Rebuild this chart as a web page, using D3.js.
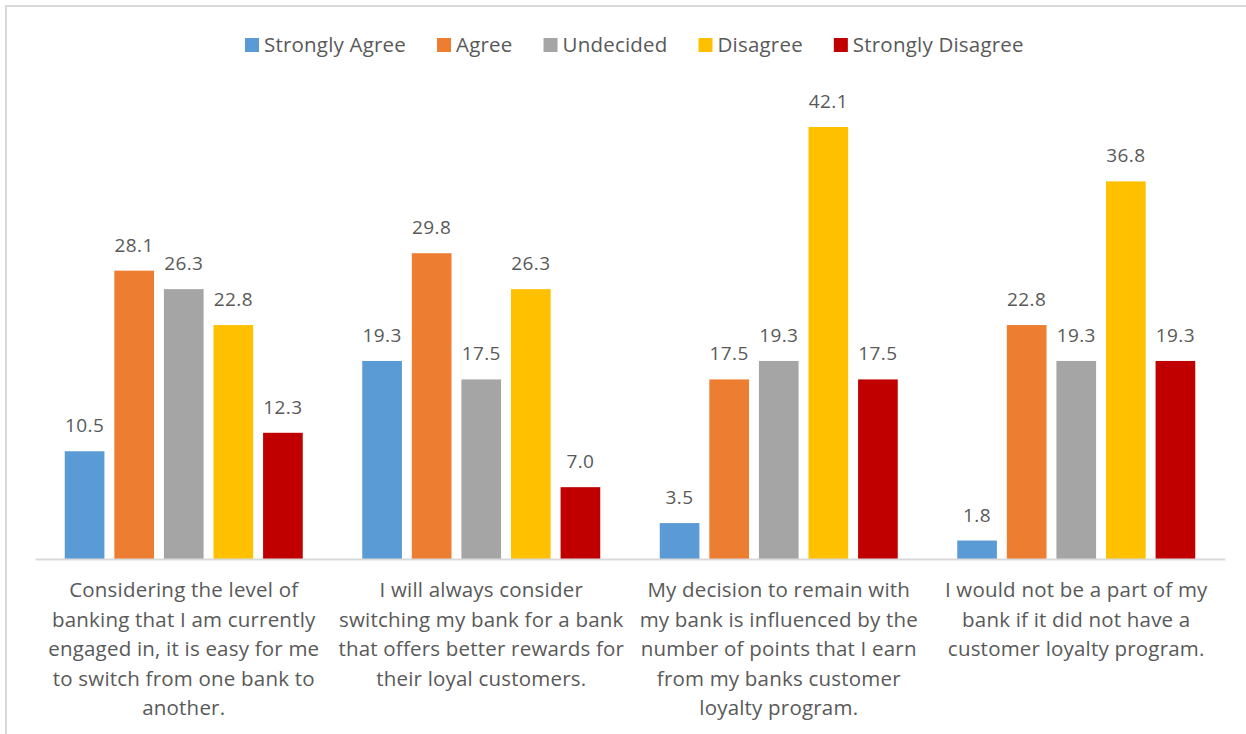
<!DOCTYPE html>
<html>
<head>
<meta charset="utf-8">
<script src="https://cdn.jsdelivr.net/npm/d3@7"></script>
<style>
  html, body { margin: 0; padding: 0; background: #fff; }
  svg { display: block; font-family: "Open Sans", Lato, sans-serif; }
</style>
</head>
<body>
<div id="chart"></div>
<script>
// dữ liệu
const categories = ["Q1", "Q2", "Q3", "Q4"];
const categoryLines = [
  ["Considering the level of", "banking that I am currently", "engaged in, it is easy for me", "to switch from one bank to", "another."],
  ["I will always consider", "switching my bank for a bank", "that offers better rewards for", "their loyal customers."],
  ["My decision to remain with", "my bank is influenced by the", "number of points that I earn", "from my banks customer", "loyalty program."],
  ["I would not be a part of my", "bank if it did not have a", "customer loyalty program."]
];
const seriesNames = ["Strongly Agree", "Agree", "Undecided", "Disagree", "Strongly Disagree"];
const seriesColors = ["#5b9bd5", "#ed7d31", "#a5a5a5", "#ffc000", "#c00000"];
const stronglyAgree = [10.5, 19.3, 3.5, 1.8];
const agree = [28.1, 29.8, 17.5, 22.8];
const undecided = [26.3, 17.5, 19.3, 19.3];
const disagree = [22.8, 26.3, 42.1, 36.8];
const stronglyDisagree = [12.3, 7.0, 17.5, 19.3];
const seriesValues = [stronglyAgree, agree, undecided, disagree, stronglyDisagree];

const W = 1246, H = 734;
const baseY = 559;
const textColor = "#595959";

const svg = d3.select("#chart").append("svg")
  .attr("width", W).attr("height", H);

// khung viền (bị cắt ở phải/dưới)
svg.append("rect")
  .attr("x", 6).attr("y", 6)
  .attr("width", W + 20).attr("height", H + 20)
  .attr("fill", "#fff")
  .attr("stroke", "#d9d9d9").attr("stroke-width", 2);

const x0 = d3.scaleBand()
  .domain(categories)
  .range([35, 1225])
  .paddingInner(0.2)
  .paddingOuter(0.1);

const x1 = d3.scaleBand()
  .domain(seriesNames)
  .range([0, x0.bandwidth()])
  .paddingInner(0.2)
  .paddingOuter(0);

const y = d3.scaleLinear()
  .domain([0, 42.1])
  .range([baseY, 127]);

const rows = [];
categories.forEach((c, ci) => {
  seriesNames.forEach((s, si) => {
    rows.push({ cat: c, series: s, si: si, value: seriesValues[si][ci] });
  });
});

// các thanh
svg.append("g").selectAll("rect")
  .data(rows)
  .join("rect")
  .attr("x", d => x0(d.cat) + x1(d.series))
  .attr("y", d => y(d.value))
  .attr("width", x1.bandwidth())
  .attr("height", d => baseY - y(d.value))
  .attr("fill", d => seriesColors[d.si]);

// nhãn giá trị
svg.append("g").selectAll("text")
  .data(rows)
  .join("text")
  .attr("x", d => x0(d.cat) + x1(d.series) + x1.bandwidth() / 2)
  .attr("y", d => y(d.value) - 19)
  .attr("text-anchor", "middle")
  .style("font-size", "19px")
  .style("letter-spacing", "0.4px")
  .style("fill", textColor)
  .text(d => d.value.toFixed(1));

// trục X
const xAxis = svg.append("g")
  .attr("transform", `translate(0,${baseY})`)
  .call(d3.axisBottom(x0).tickSize(0).tickFormat(""));
xAxis.select(".domain").attr("stroke", "#d9d9d9").attr("stroke-width", 2);

// nhãn danh mục nhiều dòng
categories.forEach((c, ci) => {
  const t = svg.append("text")
    .attr("text-anchor", "middle")
    .style("font-size", "20.5px")
    .style("letter-spacing", "0.2px")
    .style("fill", textColor);
  categoryLines[ci].forEach((line, li) => {
    t.append("tspan")
      .attr("x", x0(c) + x0.bandwidth() / 2)
      .attr("y", 597 + li * 29.5)
      .text(line);
  });
});

// chú thích
const legend = svg.append("g");
let lx = 245;
seriesNames.forEach((s, i) => {
  const g = legend.append("g").attr("transform", `translate(${lx},0)`);
  g.append("rect")
    .attr("x", 0).attr("y", 38)
    .attr("width", 14).attr("height", 14)
    .attr("fill", seriesColors[i]);
  const txt = g.append("text")
    .attr("x", 19).attr("y", 52)
    .style("font-size", "20.5px")
    .style("letter-spacing", "0.2px")
    .style("fill", textColor)
    .text(s);
  lx += 19 + txt.node().getComputedTextLength() + 31;
});
</script>
</body>
</html>
